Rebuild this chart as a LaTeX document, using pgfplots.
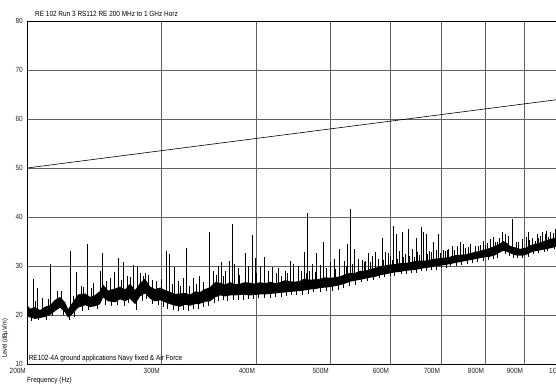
\documentclass[border=0pt]{standalone}
\usepackage{pgfplots}
\pgfplotsset{compat=1.18}
\usepackage{fontspec}
\setmainfont{Liberation Sans}[FakeStretch=0.86]
\newcommand\cf{\fontsize{7.5}{9}\selectfont}
\begin{document}
\begin{tikzpicture}
\begin{axis}[
  at={(27pt,19pt)}, anchor=south west,
  scale only axis, width=532pt, height=343pt,
  xmode=log, xmin=200, xmax=1000, ymin=10, ymax=80,
  xtick={200,300,400,500,600,700,800,900,1000},
  xticklabels={200M,300M,400M,500M,600M,700M,800M,900M,1G},
  ytick={10,20,30,40,50,60,70,80},
  log ticks with fixed point,
  minor xtick={},
  major tick length=0pt,
  /pgf/number format/assume math mode=true,
  ticklabel style={font=\cf, text=black!85},
  xticklabel style={anchor=north east, inner sep=1pt, yshift=-3.5pt},
  yticklabel style={inner sep=1pt, xshift=-3pt},
  grid=major,
  major grid style={draw=black!62, line width=0.7pt},
  axis line style={black, line width=0.8pt},
  clip mode=individual,
]
% noise band
\addplot[fill=black, draw=none] coordinates {
(200,22.1) (201.8,21.3) (204.9,21.6) (208.0,21.0) (211.2,21.7) (214.4,22.0) (217.7,23.1) (221.0,23.7) (224.4,22.6) (226.4,21.2) (229.2,22.4) (233.4,24.2) (238.4,24.4) (242.0,23.7) (245.7,24.1) (249.4,24.9) (251.7,26.2) (255.6,25.0) (261.0,25.4) (265.0,25.8) (269.0,25.2) (273.1,26.4) (277.3,25.1) (281.5,26.5) (285.8,27.4) (290.2,25.8) (294.6,25.3) (299.3,25.6) (303.7,25.1) (308.3,24.7) (313.0,24.3) (317.8,24.4) (322.6,24.5) (327.5,24.2) (332.5,24.8) (337.6,24.7) (342.7,25.3) (348.0,25.7) (353.3,26.7) (358.7,26.6) (364.1,26.2) (369.7,26.7) (375.3,26.3) (381.0,26.4) (386.8,26.7) (392.7,26.6) (398.7,26.4) (404.8,26.7) (411.0,26.5) (417.2,26.8) (423.6,26.5) (430.1,26.7) (436.6,27.1) (443.2,26.9) (450.0,26.8) (456.9,27.0) (462.4,27.4) (470.9,27.2) (478.1,27.3) (485.4,27.4) (492.8,27.7) (500.3,27.6) (507.9,27.7) (515.6,27.9) (523.5,28.3) (531.5,28.6) (539.6,28.6) (547.9,29.0) (556.2,29.0) (564.7,29.4) (573.3,29.6) (582.0,30.0) (590.9,30.1) (599.9,30.3) (609.1,30.4) (618.3,30.6) (627.7,30.6) (637.3,30.8) (647.0,31.0) (656.9,31.1) (666.9,31.1) (677.1,31.3) (687.4,31.5) (697.8,31.6) (708.5,31.7) (719.3,31.9) (730.3,32.2) (741.4,32.3) (752.7,32.4) (764.2,32.6) (775.8,32.9) (787.7,33.1) (799.7,33.4) (811.9,33.7) (824.3,34.1) (836.8,34.6) (844.5,35.1) (854.7,34.7) (862.6,34.1) (875.7,33.8) (889.0,33.5) (902.5,33.7) (916.4,34.2) (930.3,34.5) (944.4,34.8) (958.9,35.2) (973.5,35.5) (991.4,35.8) (1000,36.0)
(1000,34.1) (991.4,33.9) (973.5,33.6) (958.9,33.4) (944.4,33.2) (930.3,33.0) (916.4,32.7) (902.5,32.2) (889.0,32.1) (875.7,32.2) (862.6,32.6) (854.7,32.9) (844.5,33.1) (836.8,32.8) (824.3,32.2) (811.9,31.9) (799.7,31.8) (787.7,31.6) (775.8,31.4) (764.2,31.2) (752.7,31.0) (741.4,30.8) (730.3,30.6) (719.3,30.4) (708.5,30.2) (697.8,30.0) (687.4,29.9) (677.1,29.7) (666.9,29.6) (656.9,29.4) (647.0,29.2) (637.3,29.1) (627.7,29.0) (618.3,28.8) (609.1,28.7) (599.9,28.5) (590.9,28.3) (582.0,28.1) (573.3,27.8) (564.7,27.6) (556.2,27.4) (547.9,27.2) (539.6,27.0) (531.5,26.8) (523.5,26.4) (515.6,26.1) (507.9,25.9) (500.3,25.7) (492.8,25.6) (485.4,25.5) (478.1,25.3) (470.9,25.2) (462.4,25.0) (456.9,24.9) (450.0,24.8) (443.2,24.7) (436.6,24.6) (430.1,24.5) (423.6,24.4) (417.2,24.3) (411.0,24.2) (404.8,24.2) (398.7,24.1) (392.7,24.0) (386.8,24.1) (381.0,24.1) (375.3,24.0) (369.7,24.0) (364.1,23.8) (358.7,24.0) (353.3,23.6) (348.0,22.8) (342.7,22.7) (337.6,22.3) (332.5,22.2) (327.5,21.9) (322.6,22.1) (317.8,21.7) (313.0,21.9) (308.3,22.2) (303.7,22.6) (299.3,23.0) (294.6,22.8) (290.2,23.3) (285.8,24.4) (281.5,23.8) (277.3,22.2) (273.1,23.3) (269.0,22.8) (265.0,23.2) (261.0,22.6) (255.6,22.8) (251.7,23.6) (249.4,22.2) (245.7,21.8) (242.0,21.6) (238.4,22.0) (233.4,21.5) (229.2,20.1) (226.4,19.5) (224.4,20.5) (221.0,21.5) (217.7,20.8) (214.4,20.0) (211.2,19.6) (208.0,19.4) (204.9,19.2) (201.8,19.5) (200,19.8)
} -- cycle;
% downward noise excursions
\addplot[black, line width=0.45pt, unbounded coords=jump] coordinates {
(202.5,20.5) (202.5,18.8) (202.5,nan)
(207,20) (207,18.9) (207,nan)
(212,20.5) (212,19.0) (212,nan)
(216,21) (216,19.8) (216,nan)
(223,21.5) (223,20.0) (223,nan)
(227,20.5) (227,19.0) (227,nan)
(231,21) (231,19.6) (231,nan)
(236,22.5) (236,20.8) (236,nan)
(241,22.5) (241,21.0) (241,nan)
(247,23) (247,21.2) (247,nan)
(253,23.5) (253,22.0) (253,nan)
(258,23.5) (258,21.8) (258,nan)
(263,23.5) (263,22.0) (263,nan)
(268,23.5) (268,21.8) (268,nan)
(272,24) (272,22.5) (272,nan)
(278,23) (278,21.0) (278,nan)
(283,24.5) (283,22.8) (283,nan)
(287,25) (287,23.2) (287,nan)
(292,24) (292,22.3) (292,nan)
(297,24) (297,22.0) (297,nan)
(302,23.5) (302,21.7) (302,nan)
(306,23.5) (306,21.2) (306,nan)
(311,23) (311,21.0) (311,nan)
(316,23) (316,20.8) (316,nan)
(321,23) (321,21.0) (321,nan)
(326,23) (326,20.9) (326,nan)
(331,23) (331,21.2) (331,nan)
(336,23.5) (336,21.3) (336,nan)
(341,23.5) (341,21.6) (341,nan)
(346,24) (346,21.9) (346,nan)
(352,24.5) (352,22.4) (352,nan)
(357,25) (357,22.9) (357,nan)
(362,25) (362,23.0) (362,nan)
(367,25) (367,22.8) (367,nan)
(373,25) (373,23.0) (373,nan)
(379,25) (379,23.1) (379,nan)
(385,25) (385,23.0) (385,nan)
(391,25) (391,23.2) (391,nan)
(397,25) (397,23.3) (397,nan)
(403,25.5) (403,23.4) (403,nan)
(410,25.5) (410,23.5) (410,nan)
(417,25.5) (417,23.4) (417,nan)
(424,25.5) (424,23.6) (424,nan)
(431,25.5) (431,23.6) (431,nan)
(438,25.5) (438,23.8) (438,nan)
(445,26) (445,24.0) (445,nan)
(452,26) (452,24.0) (452,nan)
(460,26) (460,24.1) (460,nan)
(468,26) (468,24.3) (468,nan)
(476,26.5) (476,24.6) (476,nan)
(485,26.5) (485,24.7) (485,nan)
(494,26.5) (494,24.8) (494,nan)
(503,26.5) (503,25.0) (503,nan)
(512,27) (512,25.2) (512,nan)
(521,27) (521,25.5) (521,nan)
(530,27.5) (530,25.9) (530,nan)
(540,27.5) (540,26.2) (540,nan)
(550,28) (550,26.7) (550,nan)
(560,28) (560,27.0) (560,nan)
(570,28.5) (570,27.1) (570,nan)
(580,28.5) (580,27.5) (580,nan)
(590,29) (590,27.8) (590,nan)
(600,29) (600,28.0) (600,nan)
(608,29.5) (608,27.9) (608,nan)
(620,29.5) (620,28.3) (620,nan)
(630,29.8) (630,28.3) (630,nan)
(640,30) (640,28.6) (640,nan)
(650,30) (650,28.6) (650,nan)
(660,30) (660,29.0) (660,nan)
(670,30.3) (670,28.9) (670,nan)
(680,30.5) (680,29.2) (680,nan)
(690,30.6) (690,29.2) (690,nan)
(700,30.5) (700,29.5) (700,nan)
(710,31) (710,29.6) (710,nan)
(720,31) (720,29.9) (720,nan)
(733,31.3) (733,29.9) (733,nan)
(745,31.5) (745,30.3) (745,nan)
(758,31.7) (758,30.4) (758,nan)
(770,31.5) (770,30.7) (770,nan)
(780,32) (780,30.8) (780,nan)
(795,32) (795,31.1) (795,nan)
(808,32.5) (808,31.3) (808,nan)
(820,32.5) (820,31.4) (820,nan)
(830,33) (830,31.7) (830,nan)
(850,33) (850,32.4) (850,nan)
(860,33.4) (860,32.0) (860,nan)
(870,33) (870,31.6) (870,nan)
(880,33) (880,31.6) (880,nan)
(895,32.5) (895,31.6) (895,nan)
(910,33.3) (910,31.9) (910,nan)
(925,33.5) (925,32.4) (925,nan)
(940,33.9) (940,32.6) (940,nan)
(955,34) (955,32.9) (955,nan)
(965,34.3) (965,33.0) (965,nan)
(985,34.5) (985,33.5) (985,nan)
(995,34.8) (995,33.6) (995,nan)
};
% small upward noise excursions
\addplot[black, line width=0.45pt, unbounded coords=jump] coordinates {
(205,21) (205,22.8) (205,nan)
(213,21) (213,23.3) (213,nan)
(222,22) (222,25) (222,nan)
(230,21.5) (230,23.8) (230,nan)
(237,23) (237,25.8) (237,nan)
(243,23) (243,25.5) (243,nan)
(254,24) (254,27) (254,nan)
(266,24.5) (266,27.2) (266,nan)
(273,25) (273,27.8) (273,nan)
(286,25.5) (286,28.6) (286,nan)
(292,24.5) (292,27.2) (292,nan)
(300,24.5) (300,27.3) (300,nan)
(310,23.5) (310,26.3) (310,nan)
(318,23.5) (318,26) (318,nan)
(327,23.5) (327,26) (327,nan)
(334,23.5) (334,26.3) (334,nan)
(341,24) (341,26.8) (341,nan)
(355,25) (355,28.2) (355,nan)
(362,25) (362,28) (362,nan)
(380,25) (380,28.2) (380,nan)
(400,25.5) (400,28.5) (400,nan)
(415,25.5) (415,27.8) (415,nan)
(425,25.5) (425,28.6) (425,nan)
(432,25.7) (432,28) (432,nan)
(440,26) (440,28.5) (440,nan)
(448,25.9) (448,28.2) (448,nan)
(458,26) (458,29) (458,nan)
(465,26.1) (465,28.5) (465,nan)
(470,26) (470,29) (470,nan)
(478,26.3) (478,28.8) (478,nan)
(495,26.5) (495,29.5) (495,nan)
(508,26.8) (508,29.3) (508,nan)
(515,27) (515,30) (515,nan)
(525,27.3) (525,29.9) (525,nan)
(535,27.5) (535,30.5) (535,nan)
(545,27.9) (545,30.4) (545,nan)
(555,28) (555,30.8) (555,nan)
(565,28.4) (565,30.9) (565,nan)
(578,28.5) (578,31.5) (578,nan)
(588,28.9) (588,31.2) (588,nan)
(600,29) (600,32) (600,nan)
(604,29.3) (604,31.2) (604,nan)
(613,29.5) (613,31.5) (613,nan)
(625,29.7) (625,31.9) (625,nan)
(628,29.5) (628,32.5) (628,nan)
(636,29.9) (636,32.1) (636,nan)
(645,30) (645,31.8) (645,nan)
(652,30) (652,32.8) (652,nan)
(655,30.2) (655,32.3) (655,nan)
(672,30.4) (672,32.4) (672,nan)
(680,30.5) (680,32.8) (680,nan)
(690,30.5) (690,33.2) (690,nan)
(698,30.8) (698,32.7) (698,nan)
(708,31) (708,33) (708,nan)
(715,31) (715,33.5) (715,nan)
(728,31.3) (728,33.2) (728,nan)
(735,31.5) (735,34) (735,nan)
(752,31.7) (752,33.6) (752,nan)
(765,32) (765,34.5) (765,nan)
(782,32.2) (782,34) (782,nan)
(795,32.5) (795,35.2) (795,nan)
(800,32.5) (800,34.3) (800,nan)
(812,33) (812,35.5) (812,nan)
(825,33) (825,35) (825,nan)
(835,33.5) (835,35.8) (835,nan)
(857,34) (857,36.2) (857,nan)
(878,33) (878,34.9) (878,nan)
(895,33) (895,35.5) (895,nan)
(905,33) (905,36) (905,nan)
(915,33.4) (915,35.4) (915,nan)
(935,34) (935,36.6) (935,nan)
(940,33.9) (940,35.8) (940,nan)
(950,34) (950,37) (950,nan)
(963,34.5) (963,37.2) (963,nan)
(975,34.6) (975,36.5) (975,nan)
(990,35) (990,37.5) (990,nan)
(996,35) (996,36.8) (996,nan)
};
% spikes
\addplot[black, line width=0.5pt, unbounded coords=jump] coordinates {
(203.7,21) (203.7,27.3) (203.7,nan)
(206.1,21) (206.1,25.5) (206.1,nan)
(209.3,20.5) (209.3,23.5) (209.3,nan)
(214.4,21) (214.4,30.4) (214.4,nan)
(219.0,22) (219.0,25) (219.0,nan)
(227.8,21) (227.8,33.0) (227.8,nan)
(232.0,22) (232.0,28.8) (232.0,nan)
(235.5,23) (235.5,26) (235.5,nan)
(239.8,23) (239.8,34.5) (239.8,nan)
(244.2,23) (244.2,26.5) (244.2,nan)
(249.4,23.5) (249.4,29.0) (249.4,nan)
(251.0,24) (251.0,32.6) (251.0,nan)
(257.1,24) (257.1,27.5) (257.1,nan)
(260.2,24) (260.2,28.8) (260.2,nan)
(263.4,24) (263.4,31.6) (263.4,nan)
(267.4,24) (267.4,30.8) (267.4,nan)
(270.7,24) (270.7,28) (270.7,nan)
(275.6,24) (275.6,30.2) (275.6,nan)
(279.0,24) (279.0,29.8) (279.0,nan)
(281.5,25) (281.5,28.5) (281.5,nan)
(284.1,25) (284.1,28.0) (284.1,nan)
(288.4,25) (288.4,28.2) (288.4,nan)
(295.5,24) (295.5,27) (295.5,nan)
(304.6,24) (304.6,33.0) (304.6,nan)
(307.4,24) (307.4,32.4) (307.4,nan)
(312.0,23.5) (312.0,29.8) (312.0,nan)
(315.8,23) (315.8,27) (315.8,nan)
(320.7,23) (320.7,27.5) (320.7,nan)
(323.6,23) (323.6,33.7) (323.6,nan)
(330.5,23.5) (330.5,27.5) (330.5,nan)
(336.6,23.5) (336.6,28) (336.6,nan)
(346.9,24) (346.9,37.0) (346.9,nan)
(351.1,24.5) (351.1,29) (351.1,nan)
(356.5,25) (356.5,30) (356.5,nan)
(359.7,25) (359.7,30.8) (359.7,nan)
(364.1,25) (364.1,29) (364.1,nan)
(368.6,25) (368.6,31.0) (368.6,nan)
(371.9,25) (371.9,38.6) (371.9,nan)
(374.2,25) (374.2,30.5) (374.2,nan)
(378.7,25) (378.7,29.5) (378.7,nan)
(386.8,25) (386.8,32.6) (386.8,nan)
(390.3,25) (390.3,30) (390.3,nan)
(395.1,25.5) (395.1,36.3) (395.1,nan)
(398.7,25.5) (398.7,31.6) (398.7,nan)
(404.8,25.5) (404.8,30.0) (404.8,nan)
(409.7,25.5) (409.7,31.8) (409.7,nan)
(414.8,25.5) (414.8,29) (414.8,nan)
(419.8,25.5) (419.8,29.8) (419.8,nan)
(427.5,25.5) (427.5,29.6) (427.5,nan)
(436.6,25.5) (436.6,29) (436.6,nan)
(443.2,26) (443.2,31.0) (443.2,nan)
(447.3,26) (447.3,30.5) (447.3,nan)
(454.1,26) (454.1,30) (454.1,nan)
(462.4,26) (462.4,32.8) (462.4,nan)
(466.7,26) (466.7,40.9) (466.7,nan)
(473.7,26) (473.7,30.5) (473.7,nan)
(479.5,26.5) (479.5,32.6) (479.5,nan)
(485.4,26.5) (485.4,30.2) (485.4,nan)
(489.8,26.5) (489.8,34.9) (489.8,nan)
(500.3,26.5) (500.3,30.8) (500.3,nan)
(506.4,27) (506.4,31.5) (506.4,nan)
(514.1,27) (514.1,33.4) (514.1,nan)
(521.9,27) (521.9,31) (521.9,nan)
(526.7,27.5) (526.7,34.5) (526.7,nan)
(531.5,27.5) (531.5,41.6) (531.5,nan)
(538.0,27.5) (538.0,33.4) (538.0,nan)
(544.5,28) (544.5,31.5) (544.5,nan)
(551.2,28) (551.2,31.2) (551.2,nan)
(556.2,28) (556.2,31) (556.2,nan)
(561.3,28.5) (561.3,32.6) (561.3,nan)
(568.1,28.5) (568.1,32) (568.1,nan)
(573.3,28.5) (573.3,32.9) (573.3,nan)
(585.5,29) (585.5,35.7) (585.5,nan)
(590.9,29) (590.9,32.8) (590.9,nan)
(596.3,29) (596.3,32.6) (596.3,nan)
(605.4,29.5) (605.4,38.2) (605.4,nan)
(610.9,29.5) (610.9,36.5) (610.9,nan)
(616.5,29.5) (616.5,33) (616.5,nan)
(622.1,29.5) (622.1,37.0) (622.1,nan)
(633.5,30) (633.5,37.5) (633.5,nan)
(641.2,30) (641.2,33.5) (641.2,nan)
(649.0,30) (649.0,35.7) (649.0,nan)
(658.9,30) (658.9,38.0) (658.9,nan)
(662.9,30.5) (662.9,37.0) (662.9,nan)
(668.9,30.5) (668.9,36.5) (668.9,nan)
(675.0,30.5) (675.0,33) (675.0,nan)
(683.2,30.5) (683.2,34.9) (683.2,nan)
(693.6,30.5) (693.6,36.5) (693.6,nan)
(704.2,31) (704.2,33.3) (704.2,nan)
(712.8,31) (712.8,33.3) (712.8,nan)
(723.7,31) (723.7,34) (723.7,nan)
(741.4,31.5) (741.4,34.9) (741.4,nan)
(748.2,31.5) (748.2,34.5) (748.2,nan)
(759.6,32) (759.6,33.8) (759.6,nan)
(775.8,32) (775.8,34.0) (775.8,nan)
(787.7,32.5) (787.7,34.2) (787.7,nan)
(804.6,32.5) (804.6,34.7) (804.6,nan)
(819.3,33) (819.3,36.0) (819.3,nan)
(829.2,33) (829.2,35.0) (829.2,nan)
(841.9,34) (841.9,37.0) (841.9,nan)
(849.5,34) (849.5,36.5) (849.5,nan)
(867.7,33.5) (867.7,39.6) (867.7,nan)
(883.7,33) (883.7,35) (883.7,nan)
(910.8,33) (910.8,37.0) (910.8,nan)
(921.9,33.5) (921.9,35.8) (921.9,nan)
(930.3,34) (930.3,35.2) (930.3,nan)
(944.4,34) (944.4,36.2) (944.4,nan)
(958.9,34.5) (958.9,36.6) (958.9,nan)
(967.6,34.5) (967.6,36.0) (967.6,nan)
(973.5,34.5) (973.5,37) (973.5,nan)
(982.4,35) (982.4,36.7) (982.4,nan)
};
% limit line
\addplot[black, line width=0.6pt] coordinates {(200,50) (1000,64)};
\node[font=\cf, anchor=south west, inner sep=0pt] at (axis description cs:0.015,1.012) {RE 102 Run 3 RS112 RE 200 MHz to 1 GHz Horz};
\node[font=\cf, anchor=south west, inner sep=0pt] at (axis description cs:0.003,0.004) {RE102-4A ground applications Navy fixed \& Air Force};
\node[font=\cf, anchor=north west, inner sep=0pt] at (axis description cs:0.0,-0.038) {Frequency (Hz)};
\node[font=\fontsize{6.5}{8}\selectfont, anchor=west, rotate=90, inner sep=0pt] at (axis description cs:-0.041,0.018) {Level (dBµV/m)};
\end{axis}
\pgfresetboundingbox
\path[use as bounding box] (0,0) rectangle (556pt,383pt);
\end{tikzpicture}
\end{document}
